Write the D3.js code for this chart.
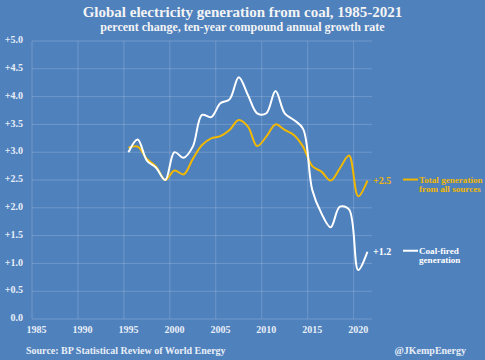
<!DOCTYPE html>
<html>
<head>
<meta charset="utf-8">
<script src="https://cdn.jsdelivr.net/npm/d3@7"></script>
<style>
  body { margin: 0; background: #4f81bd; }
  text { font-family: "Liberation Serif", "Times New Roman", serif; font-weight: bold; }
</style>
</head>
<body>
<svg id="chart"></svg>
<script>
const years = d3.range(1995, 2022);
const coal = [3.0, 3.23, 2.85, 2.72, 2.5, 3.0, 2.9, 3.1, 3.67, 3.63, 3.88, 3.95, 4.35, 4.03, 3.7, 3.7,
  4.1, 3.7, 3.58, 3.42, 2.32, 1.9, 1.65, 2.02, 1.97, 0.88, 1.21];
const total = [3.08, 3.1, 2.88, 2.74, 2.5, 2.67, 2.6, 2.88, 3.13, 3.25, 3.29, 3.4, 3.58, 3.46, 3.11, 3.28,
  3.5, 3.4, 3.31, 3.1, 2.75, 2.65, 2.49, 2.71, 2.94, 2.21, 2.49];
const xTicks = [1985, 1990, 1995, 2000, 2005, 2010, 2015, 2020];
const yTicks = [0, 0.5, 1, 1.5, 2, 2.5, 3, 3.5, 4, 4.5, 5];

const width = 485, height = 360;
const margin = {top: 41, right: 113, bottom: 41, left: 32};

const svg = d3.select("#chart").attr("width", width).attr("height", height);

const x = d3.scaleLinear().domain([1985, 2022]).range([margin.left, width - margin.right]);
const y = d3.scaleLinear().domain([0, 5]).range([height - margin.bottom, margin.top]);

const grid = "rgba(255,255,255,0.18)";

svg.selectAll(".hgrid").data(yTicks).enter().append("line")
  .attr("x1", x(1985)).attr("x2", x(2022))
  .attr("y1", (d) => y(d)).attr("y2", (d) => y(d))
  .attr("stroke", grid).attr("stroke-width", 1);

svg.selectAll(".vgrid").data(xTicks).enter().append("line")
  .attr("x1", (d) => x(d)).attr("x2", (d) => x(d))
  .attr("y1", y(5)).attr("y2", y(0))
  .attr("stroke", grid).attr("stroke-width", 1);

svg.selectAll(".ylab").data(yTicks).enter().append("text")
  .attr("x", 23).attr("y", (d) => y(d))
  .attr("text-anchor", "end").attr("dominant-baseline", "middle")
  .attr("font-size", "10px").attr("fill", "#e8eef7")
  .text((d) => (d === 0 ? "0.0" : "+" + d.toFixed(1)));

svg.selectAll(".xlab").data(xTicks).enter().append("text")
  .attr("x", (d) => x(d + 0.5)).attr("y", 333)
  .attr("text-anchor", "middle")
  .attr("font-size", "10px").attr("fill", "#e8eef7")
  .text((d) => d);

const line = d3.line()
  .x((d, i) => x(years[i] + 0.5))
  .y((d) => y(d))
  .curve(d3.curveCatmullRom.alpha(0.5));

svg.append("path").datum(total)
  .attr("d", line).attr("fill", "none")
  .attr("stroke", "#f2b800").attr("stroke-width", 2);

svg.append("path").datum(coal)
  .attr("d", line).attr("fill", "none")
  .attr("stroke", "#ffffff").attr("stroke-width", 2);

// end labels + legend
const legend = [
  {value: total[total.length - 1], color: "#f2b800", lines: ["Total generation", "from all sources"]},
  {value: coal[coal.length - 1], color: "#ffffff", lines: ["Coal-fired", "generation"]},
];

legend.forEach((l) => {
  const ly = y(l.value);
  svg.append("text")
    .attr("x", 373).attr("y", ly + 3.5)
    .attr("font-size", "10px").attr("fill", l.color)
    .text("+" + l.value.toFixed(1));
  svg.append("line")
    .attr("x1", 403).attr("x2", 418)
    .attr("y1", ly - 1).attr("y2", ly - 1)
    .attr("stroke", l.color).attr("stroke-width", 2);
  l.lines.forEach((t, i) => {
    svg.append("text")
      .attr("x", 419).attr("y", ly + 2 + i * 9.5)
      .attr("font-size", "9.1px").attr("fill", l.color)
      .text(t);
  });
});

svg.append("text")
  .attr("x", width / 2).attr("y", 17)
  .attr("text-anchor", "middle").attr("font-size", "15px").attr("fill", "#f4f4f4")
  .text("Global electricity generation from coal, 1985-2021");

svg.append("text")
  .attr("x", width / 2).attr("y", 31)
  .attr("text-anchor", "middle").attr("font-size", "12px").attr("fill", "#f4f4f4")
  .text("percent change, ten-year compound annual growth rate");

svg.append("text")
  .attr("x", 26).attr("y", 354)
  .attr("font-size", "10px").attr("fill", "#e8eef7")
  .text("Source: BP Statistical Review of World Energy");

svg.append("text")
  .attr("x", 466).attr("y", 354)
  .attr("text-anchor", "end")
  .attr("font-size", "10px").attr("fill", "#e8eef7")
  .text("@JKempEnergy");
</script>
</body>
</html>
